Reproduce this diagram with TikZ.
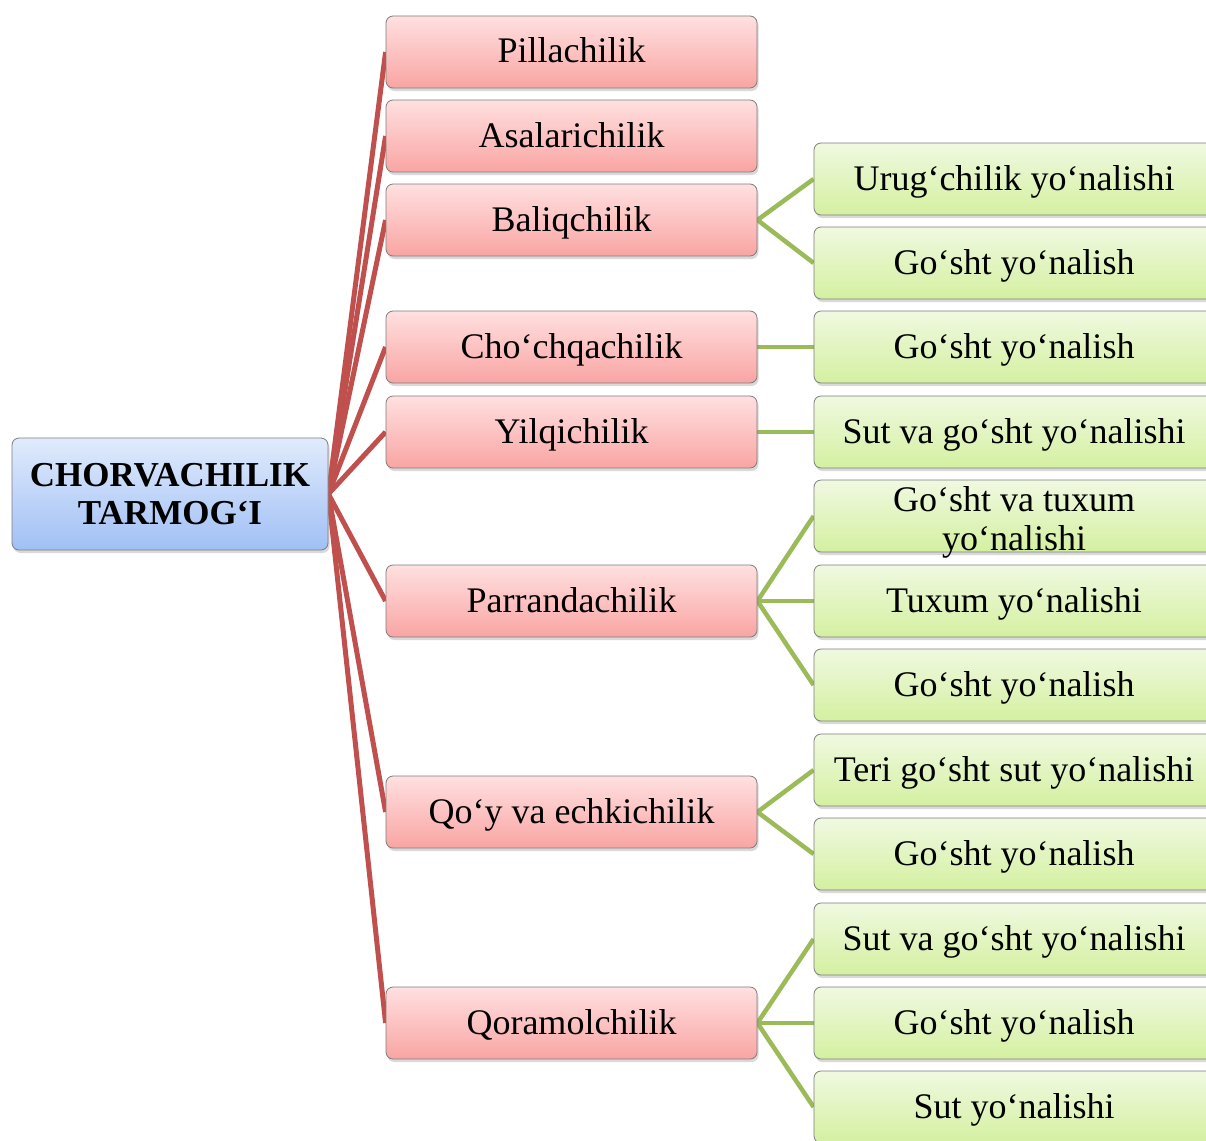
\documentclass[tikz,border=0pt]{standalone}
\usepackage{fontspec}
\setmainfont{Liberation Serif}
\usetikzlibrary{shadows,backgrounds}
\definecolor{redline}{RGB}{192,80,77}
\definecolor{greenline}{RGB}{155,187,89}
\definecolor{rootTop}{RGB}{224,235,252}
\definecolor{rootBot}{RGB}{160,192,245}
\definecolor{catTop}{RGB}{255,224,224}
\definecolor{catBot}{RGB}{249,165,163}
\definecolor{subTop}{RGB}{240,249,225}
\definecolor{subBot}{RGB}{212,240,160}
\definecolor{boxborder}{RGB}{125,125,125}
\begin{document}
\begin{tikzpicture}[x=1pt,y=-1pt,
  box/.style={rounded corners=7pt, draw=boxborder, line width=0.8pt, inner sep=0pt,
    font=\fontsize{36}{39}\selectfont,
    drop shadow={shadow xshift=1.5pt, shadow yshift=-3pt, opacity=0.3}},
  oneline/.style={text height=25pt, text depth=3pt},
  rootbox/.style={box, align=center, minimum width=316pt, minimum height=112pt,
    top color=rootTop, bottom color=rootBot, font=\fontsize{35}{38}\selectfont\bfseries},
  catbox/.style={box, oneline, minimum width=371pt, minimum height=72pt,
    top color=catTop, bottom color=catBot},
  subbox/.style={box, oneline, minimum width=400pt, minimum height=72pt,
    top color=subTop, bottom color=subBot},
  twobox/.style={box, text height=52pt, text depth=26pt, minimum width=400pt, minimum height=72pt,
    top color=subTop, bottom color=subBot},
  redlink/.style={draw=redline, line width=5pt},
  greenlink/.style={draw=greenline, line width=4.5pt}]
\clip (0,0) rectangle (1206,1140);

\node[rootbox] (root) at (170,494) {CHORVACHILIK\\TARMOG‘I};

\node[catbox] (c1) at (571.5,52) {Pillachilik};
\node[catbox] (c2) at (571.5,136) {Asalarichilik};
\node[catbox] (c3) at (571.5,220) {Baliqchilik};
\node[catbox] (c4) at (571.5,347) {Cho‘chqachilik};
\node[catbox] (c5) at (571.5,432) {Yilqichilik};
\node[catbox] (c6) at (571.5,601) {Parrandachilik};
\node[catbox] (c7) at (571.5,812) {Qo‘y va echkichilik};
\node[catbox] (c8) at (571.5,1023) {Qoramolchilik};

\node[subbox] (s1) at (1014,179) {Urug‘chilik yo‘nalishi};
\node[subbox] (s2) at (1014,263) {Go‘sht yo‘nalish};
\node[subbox] (s3) at (1014,347) {Go‘sht yo‘nalish};
\node[subbox] (s4) at (1014,432) {Sut va go‘sht yo‘nalishi};
\node[twobox, minimum height=72pt, inner ysep=-3pt] (s5) at (1014,516) {\begin{tabular}{@{}c@{}}Go‘sht va tuxum\\yo‘nalishi\end{tabular}};
\node[subbox] (s6) at (1014,601) {Tuxum yo‘nalishi};
\node[subbox] (s7) at (1014,685) {Go‘sht yo‘nalish};
\node[subbox] (s8) at (1014,770) {Teri go‘sht sut yo‘nalishi};
\node[subbox] (s9) at (1014,854) {Go‘sht yo‘nalish};
\node[subbox] (s10) at (1014,939) {Sut va go‘sht yo‘nalishi};
\node[subbox] (s11) at (1014,1023) {Go‘sht yo‘nalish};
\node[subbox] (s12) at (1014,1107) {Sut yo‘nalishi};

\begin{pgfonlayer}{background}
  \foreach \c in {c1,c2,c3,c4,c5,c6,c7,c8}
    \draw[redlink] (root.east) -- (\c.west);
  \draw[greenlink] (c3.east) -- (s1.west);
  \draw[greenlink] (c3.east) -- (s2.west);
  \draw[greenlink] (c4.east) -- (s3.west);
  \draw[greenlink] (c5.east) -- (s4.west);
  \draw[greenlink] (c6.east) -- (s5.west);
  \draw[greenlink] (c6.east) -- (s6.west);
  \draw[greenlink] (c6.east) -- (s7.west);
  \draw[greenlink] (c7.east) -- (s8.west);
  \draw[greenlink] (c7.east) -- (s9.west);
  \draw[greenlink] (c8.east) -- (s10.west);
  \draw[greenlink] (c8.east) -- (s11.west);
  \draw[greenlink] (c8.east) -- (s12.west);
\end{pgfonlayer}
\end{tikzpicture}
\end{document}
